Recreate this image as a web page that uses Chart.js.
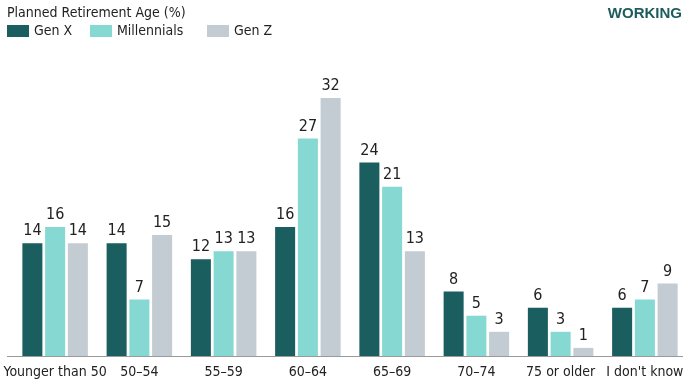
<!DOCTYPE html>
<html lang="en">
<head>
  <meta charset="UTF-8">
  <title>Planned Retirement Age</title>
  <script src="https://cdn.jsdelivr.net/npm/chart.js"></script>
  <style>
    html, body { margin: 0; padding: 0; background: #fff; }
    .wrap { position: relative; width: 689px; height: 385px; }
  </style>
</head>
<body>
  <div class="wrap">
    <canvas id="retireChart" width="689" height="385"></canvas>
  </div>

  <script>
    const categories = ['Younger than 50', '50\u201354', '55\u201359', '60\u201364', '65\u201369', '70\u201374', '75 or older', "I don't know"];
    const genX = [14, 14, 12, 16, 24, 8, 6, 6];
    const millennials = [16, 7, 13, 27, 21, 5, 3, 7];
    const genZ = [14, 15, 13, 32, 13, 3, 1, 9];

    const FONT = '"Liberation Sans Narrow", "DejaVu Sans Condensed", sans-serif';

    // title, legend, value labels, baseline and the "WORKING" tag
    const extras = {
      id: 'extras',
      afterDatasetsDraw(chart) {
        const ctx = chart.ctx;
        const area = chart.chartArea;
        ctx.save();

        // baseline
        ctx.strokeStyle = '#9a9a9a';
        ctx.lineWidth = 1;
        ctx.beginPath();
        ctx.moveTo(7, Math.round(area.bottom) + 0.5);
        ctx.lineTo(683, Math.round(area.bottom) + 0.5);
        ctx.stroke();

        // value labels
        ctx.font = '16px ' + FONT;
        ctx.fillStyle = '#222';
        ctx.textAlign = 'center';
        ctx.textBaseline = 'bottom';
        chart.data.datasets.forEach((ds, i) => {
          chart.getDatasetMeta(i).data.forEach((bar, j) => {
            ctx.fillText(ds.data[j], bar.x, bar.y - 4);
          });
        });

        // title
        ctx.textAlign = 'left';
        ctx.textBaseline = 'middle';
        ctx.font = '14px ' + FONT;
        ctx.fillText('Planned Retirement Age (%)', 7, 13);

        // legend
        const legendX = [7, 90, 207];
        chart.data.datasets.forEach((ds, i) => {
          ctx.fillStyle = ds.backgroundColor;
          ctx.fillRect(legendX[i], 25, 22, 12);
          ctx.fillStyle = '#222';
          ctx.fillText(ds.label, legendX[i] + 27, 31);
        });

        // tag
        ctx.font = 'bold 15px "Liberation Sans", Arial, sans-serif';
        ctx.fillStyle = '#1d5c5c';
        ctx.textAlign = 'right';
        ctx.textBaseline = 'top';
        ctx.fillText('WORKING', 682, 6);
        ctx.restore();
      }
    };

    const ctx = document.getElementById('retireChart').getContext('2d');
    const chart = new Chart(ctx, {
      type: 'bar',
      data: {
        labels: categories,
        datasets: [
          { label: 'Gen X', data: genX, backgroundColor: '#1b5e5f' },
          { label: 'Millennials', data: millennials, backgroundColor: '#86d9d2' },
          { label: 'Gen Z', data: genZ, backgroundColor: '#c3cbd3' }
        ]
      },
      options: {
        responsive: false,
        animation: false,
        layout: { padding: { left: 13, right: 2, top: 82, bottom: 0 } },
        datasets: {
          bar: { categoryPercentage: 0.81, barPercentage: 0.88 }
        },
        plugins: {
          title: { display: false },
          legend: { display: false },
          tooltip: { enabled: false }
        },
        scales: {
          x: {
            grid: { display: false, drawTicks: false },
            border: { display: false },
            ticks: {
              color: '#222',
              font: { family: FONT, size: 14 },
              padding: 8,
              maxRotation: 0,
              autoSkip: false
            },
            afterFit(scale) {
              // long edge labels should not squeeze the plot
              scale.paddingLeft = 0;
              scale.paddingRight = 0;
              scale.height = 29;
            }
          },
          y: {
            display: false,
            min: 0,
            max: 34
          }
        }
      },
      plugins: [extras]
    });
  </script>
</body>
</html>
